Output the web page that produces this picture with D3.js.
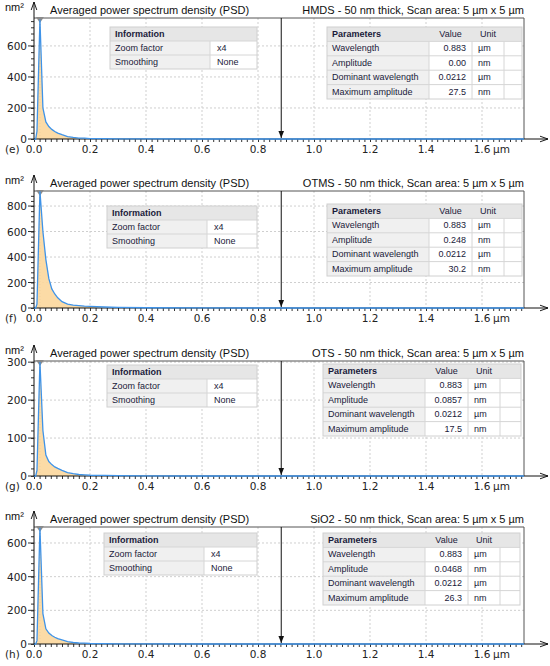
<!DOCTYPE html>
<html lang="en">
<head>
<meta charset="UTF-8">
<title>Averaged power spectrum density</title>
<script src="https://d3js.org/d3.v7.min.js"></script>
<style>
  body { margin: 0; background: #fff; }
  svg { display: block; }
  .tick-label { font-family: "DejaVu Sans", sans-serif; font-size: 10.5px; fill: #222; }
  .ytick-label { font-family: "DejaVu Sans", sans-serif; font-size: 10.5px; fill: #222; }
  .title { font-family: "Liberation Sans", Arial, sans-serif; font-size: 11px; fill: #111; }
  .tbl { font-family: "Liberation Sans", Arial, sans-serif; font-size: 9px; fill: #1a1a3a; }
  .tbl-head { font-weight: bold; }
</style>
</head>
<body>
<svg id="chart"></svg>
<script>
// ---- data ----
const xVals = [0, 0.006, 0.0106, 0.0212, 0.0318, 0.0424, 0.053, 0.0636, 0.0742, 0.0848, 0.1, 0.12, 0.14, 0.16, 0.18, 0.2, 0.25, 0.3, 0.4, 0.6, 0.8, 1.0, 1.2, 1.4, 1.6, 1.75];
const psdHMDS = [0, 0, 50, 770, 200, 110, 80, 62, 48, 38, 28, 16, 10, 6, 5, 3, 2, 1, 0.5, 0, 0, 0, 0, 0, 0, 0];
const psdOTMS = [0, 0, 30, 915, 600, 380, 230, 150, 110, 80, 50, 30, 22, 18, 14, 12, 8, 5, 2, 1, 0, 0, 0, 0, 0, 0];
const psdOTS  = [0, 0, 15, 300, 120, 55, 38, 30, 24, 20, 15, 9, 6, 4, 3, 2, 1.5, 1, 0.5, 0, 0, 0, 0, 0, 0, 0];
const psdSiO2 = [0, 0, 20, 690, 180, 90, 65, 50, 40, 32, 24, 14, 9, 6, 5, 3, 2, 1, 0.5, 0, 0, 0, 0, 0, 0, 0];

const sampleNames = ["HMDS", "OTMS", "OTS", "SiO2"];
const panelLetters = ["(e)", "(f)", "(g)", "(h)"];
const yTickSets = [[0, 200, 400, 600], [0, 200, 400, 600, 800], [0, 100, 200, 300], [0, 200, 400, 600]];
const yMaxes = [780, 918, 303, 695];
const xTicks = [0, 0.2, 0.4, 0.6, 0.8, 1.0, 1.2, 1.4, 1.6];

const paramNames = ["Wavelength", "Amplitude", "Dominant wavelength", "Maximum amplitude"];
const paramUnits = ["µm", "nm", "µm", "nm"];
const paramValues = [
  ["0.883", "0.00", "0.0212", "27.5"],
  ["0.883", "0.248", "0.0212", "30.2"],
  ["0.883", "0.0857", "0.0212", "17.5"],
  ["0.883", "0.0468", "0.0212", "26.3"]
];
const infoNames = ["Zoom factor", "Smoothing"];
const infoValues = ["x4", "None"];
const markerX = 0.883;
const peakX = 0.0212;

const seriesList = [psdHMDS, psdOTMS, psdOTS, psdSiO2];

// ---- layout ----
const W = 550, H = 666;
const x0 = 34, x1 = 524;
const layout = [
  { top: 18, base: 139, info: { x: 110, y: 27, w: 147 }, par: { x: 327, y: 27, w: 195 } },
  { top: 191, base: 308, info: { x: 107, y: 206, w: 150 }, par: { x: 327, y: 204, w: 195 } },
  { top: 361, base: 476, info: { x: 107, y: 365, w: 150 }, par: { x: 323, y: 364, w: 198 } },
  { top: 527, base: 644, info: { x: 104, y: 533, w: 153 }, par: { x: 323, y: 533, w: 197 } }
];

const svg = d3.select("#chart").attr("width", W).attr("height", H);
const defs = svg.append("defs");
defs.append("marker").attr("id", "arrowBlack")
  .attr("viewBox", "0 0 10 10").attr("refX", 10).attr("refY", 5)
  .attr("markerWidth", 7).attr("markerHeight", 7).attr("orient", "auto")
  .append("path").attr("d", "M0,1 L10,5 L0,9 Z").attr("fill", "#111");
defs.append("marker").attr("id", "arrowOpen")
  .attr("viewBox", "0 0 10 10").attr("refX", 10).attr("refY", 5)
  .attr("markerWidth", 8).attr("markerHeight", 8).attr("orient", "auto")
  .append("path").attr("d", "M0,1.5 L10,5 L0,8.5").attr("fill", "none").attr("stroke", "#111").attr("stroke-width", 1.2);

const x = d3.scaleLinear().domain([0, 1.75]).range([x0, x1]);

layout.forEach((L, i) => {
  const g = svg.append("g");
  const y = d3.scaleLinear().domain([0, yMaxes[i]]).range([L.base, L.top]);
  const values = seriesList[i];
  const pts = xVals.map((d, k) => [d, values[k]]);

  // grid
  g.selectAll(".vgrid").data(xTicks.filter(d => d > 0)).enter().append("line")
    .attr("x1", d => x(d)).attr("x2", d => x(d))
    .attr("y1", L.top).attr("y2", L.base)
    .attr("stroke", "#cfcfcf").attr("stroke-dasharray", "2,2");
  g.selectAll(".hgrid").data(yTickSets[i].filter(d => d > 0)).enter().append("line")
    .attr("x1", x0).attr("x2", x1)
    .attr("y1", d => y(d)).attr("y2", d => y(d))
    .attr("stroke", "#cfcfcf").attr("stroke-dasharray", "2,2");

  // frame (top + right)
  g.append("path")
    .attr("d", `M${x0},${L.top} H${x1} V${L.base}`)
    .attr("fill", "none").attr("stroke", "#555").attr("stroke-width", 1);

  // peak marker
  g.append("line")
    .attr("x1", x(peakX)).attr("x2", x(peakX))
    .attr("y1", L.top).attr("y2", L.base)
    .attr("stroke", "#999").attr("stroke-dasharray", "1,2");
  g.append("path")
    .attr("d", `M${x(peakX) - 4},${L.top - 1} H${x(peakX) + 4} L${x(peakX)},${L.top + 5} Z`)
    .attr("fill", "#8a8a8a");

  // area + line
  g.append("path").datum(pts)
    .attr("d", d3.area().x(d => x(d[0])).y0(L.base).y1(d => y(d[1])))
    .attr("fill", "#fcd79c").attr("opacity", 0.9);

  // x axis (ticks below)
  const xAxis = d3.axisBottom(x).tickValues(d3.range(0, 1.7401, 0.02)).tickSize(3).tickFormat("");
  g.append("g").attr("transform", `translate(0,${L.base})`).call(xAxis)
    .call(a => a.select(".domain").remove())
    .call(a => a.selectAll("line").attr("stroke", "#333"));
  g.append("line")
    .attr("x1", x0).attr("x2", 548).attr("y1", L.base).attr("y2", L.base)
    .attr("stroke", "#111").attr("marker-end", "url(#arrowOpen)");

  g.append("path").datum(pts)
    .attr("d", d3.line().x(d => x(d[0])).y(d => y(d[1])))
    .attr("fill", "none").attr("stroke", "#3f93e8").attr("stroke-width", 1.3);

  g.selectAll(".xl").data(xTicks).enter().append("text")
    .attr("class", "tick-label")
    .attr("x", d => x(d)).attr("y", L.base + 14)
    .attr("text-anchor", "middle")
    .text(d => d.toFixed(1));
  g.append("text").attr("class", "tick-label")
    .attr("x", x(1.6) + 11).attr("y", L.base + 14).text("µm");

  // y axis
  const step = yTickSets[i][1] / 5;
  const yAxis = d3.axisLeft(y).tickValues(d3.range(0, yMaxes[i], step)).tickSize(3).tickFormat("");
  g.append("g").attr("transform", `translate(${x0},0)`).call(yAxis)
    .call(a => a.select(".domain").remove())
    .call(a => a.selectAll("line").attr("stroke", "#333"));
  g.selectAll(".ymaj").data(yTickSets[i]).enter().append("line")
    .attr("x1", x0 - 6).attr("x2", x0).attr("y1", d => y(d)).attr("y2", d => y(d))
    .attr("stroke", "#333");
  g.selectAll(".yl").data(yTickSets[i]).enter().append("text")
    .attr("class", "ytick-label")
    .attr("x", x0 - 7).attr("y", d => y(d) + 4)
    .attr("text-anchor", "end")
    .text(d => d);
  g.append("line")
    .attr("x1", x0).attr("x2", x0).attr("y1", L.base).attr("y2", L.top - 16)
    .attr("stroke", "#111").attr("marker-end", "url(#arrowOpen)");

  // wavelength marker arrow
  g.append("line")
    .attr("x1", x(markerX)).attr("x2", x(markerX))
    .attr("y1", L.top).attr("y2", L.base - 1)
    .attr("stroke", "#111").attr("marker-end", "url(#arrowBlack)");

  // texts
  g.append("text").attr("class", "title").attr("x", 5).attr("y", L.top - 7)
    .style("font-size", "11px").text("nm²");
  g.append("text").attr("class", "title").attr("x", 50).attr("y", L.top - 4)
    .text("Averaged power spectrum density (PSD)");
  g.append("text").attr("class", "title").attr("x", x1).attr("y", L.top - 4)
    .attr("text-anchor", "end")
    .text(`${sampleNames[i]} - 50 nm thick, Scan area: 5 µm x 5 µm`);
  g.append("text").attr("class", "tick-label").attr("x", 5).attr("y", L.base + 14)
    .text(panelLetters[i]);

  // information table
  const rh = 14;
  const it = g.append("g").attr("transform", `translate(${L.info.x},${L.info.y})`);
  const split = 100;
  it.append("rect").attr("width", L.info.w).attr("height", rh).attr("fill", "#e6e6e6");
  infoNames.forEach((n, k) => {
    it.append("rect").attr("y", rh * (k + 1)).attr("width", split).attr("height", rh).attr("fill", "#f0f0f0");
    it.append("rect").attr("x", split).attr("y", rh * (k + 1)).attr("width", L.info.w - split).attr("height", rh).attr("fill", "#fff");
    it.append("text").attr("class", "tbl").attr("x", 5).attr("y", rh * (k + 1) + 10).text(n);
    it.append("text").attr("class", "tbl").attr("x", split + 7).attr("y", rh * (k + 1) + 10).text(infoValues[k]);
  });
  it.append("text").attr("class", "tbl tbl-head").attr("x", 5).attr("y", 10).text("Information");
  [rh, rh * 2].forEach(yy => it.append("line").attr("x1", 0).attr("x2", L.info.w).attr("y1", yy).attr("y2", yy).attr("stroke", "#d6d6d6"));
  it.append("line").attr("x1", split).attr("x2", split).attr("y1", rh).attr("y2", rh * 3).attr("stroke", "#d6d6d6");
  it.append("rect").attr("width", L.info.w).attr("height", rh * 3).attr("fill", "none").attr("stroke", "#d0d0d0");

  // parameters table
  const ph = 14.4;
  const cols = [0, 102, 145, 177, L.par.w];
  const pt = g.append("g").attr("transform", `translate(${L.par.x},${L.par.y})`);
  pt.append("rect").attr("width", L.par.w).attr("height", ph).attr("fill", "#e6e6e6");
  paramNames.forEach((n, k) => {
    const yy = ph * (k + 1);
    pt.append("rect").attr("y", yy).attr("width", cols[1]).attr("height", ph).attr("fill", "#f0f0f0");
    pt.append("rect").attr("x", cols[1]).attr("y", yy).attr("width", L.par.w - cols[1]).attr("height", ph).attr("fill", "#fff");
    pt.append("text").attr("class", "tbl").attr("x", 5).attr("y", yy + 10).text(n);
    pt.append("text").attr("class", "tbl").attr("x", cols[2] - 6).attr("y", yy + 10)
      .attr("text-anchor", "end").text(paramValues[i][k]);
    pt.append("text").attr("class", "tbl").attr("x", cols[2] + 6).attr("y", yy + 10).text(paramUnits[k]);
    pt.append("line").attr("x1", 0).attr("x2", L.par.w).attr("y1", yy).attr("y2", yy).attr("stroke", "#d6d6d6");
  });
  pt.append("text").attr("class", "tbl tbl-head").attr("x", 5).attr("y", 10).text("Parameters");
  pt.append("text").attr("class", "tbl").attr("x", (cols[1] + cols[2]) / 2).attr("y", 10)
    .attr("text-anchor", "middle").text("Value");
  pt.append("text").attr("class", "tbl").attr("x", (cols[2] + cols[3]) / 2).attr("y", 10)
    .attr("text-anchor", "middle").text("Unit");
  cols.slice(1, 4).forEach(c => pt.append("line").attr("x1", c).attr("x2", c)
    .attr("y1", ph).attr("y2", ph * 5).attr("stroke", "#d6d6d6"));
  pt.append("rect").attr("width", L.par.w).attr("height", ph * 5).attr("fill", "none").attr("stroke", "#d0d0d0");
});
</script>
</body>
</html>
